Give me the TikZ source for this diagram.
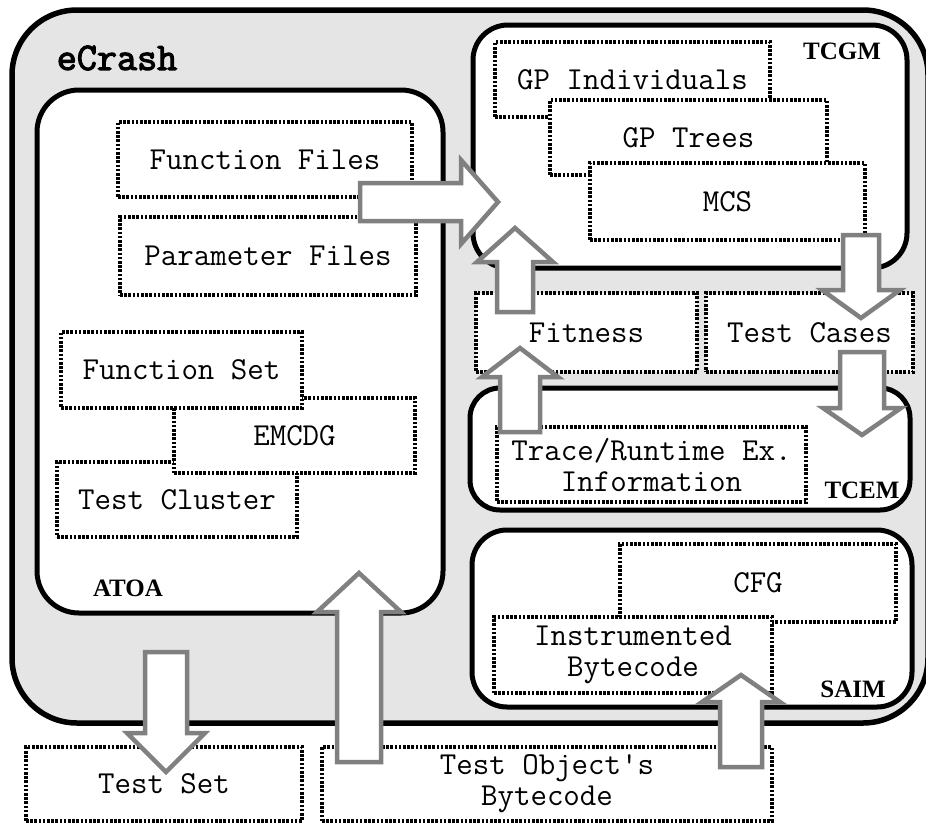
\documentclass[tikz,border=0pt]{standalone}
\usepackage{fontspec}
\newfontfamily\boxfont{Latin Modern Mono}
\newfontfamily\ecfont{Latin Modern Mono}[FakeBold=3]
\newfontfamily\labfont{Liberation Serif}
\definecolor{bggray}{RGB}{229,229,229}
\definecolor{arrgray}{RGB}{128,128,128}
\newcommand\vblockarrow[6]{% cx, ystart, ytip, halfshaft, halfhead, ybase
  \draw[blockarrow] (#1-#4,#2) -- (#1-#4,#6) -- (#1-#5,#6) -- (#1,#3) -- (#1+#5,#6) -- (#1+#4,#6) -- (#1+#4,#2) -- cycle;}
\newcommand\hblockarrow[6]{% cy, xstart, xtip, halfshaft, halfhead, xbase
  \draw[blockarrow] (#2,#1-#4) -- (#6,#1-#4) -- (#6,#1-#5) -- (#3,#1) -- (#6,#1+#5) -- (#6,#1+#4) -- (#2,#1+#4) -- cycle;}
\tikzset{
  solidbox/.style={draw=black, line width=5pt, fill=white, inner sep=0pt},
  dbox/.style={draw=black, fill=white, line width=4pt, dash pattern=on 2.6pt off 1.6pt,
    font=\boxfont\fontsize{32}{31}\selectfont, align=center, inner sep=0pt},
  modlabel/.style={font=\labfont\bfseries\fontsize{25}{27}\selectfont, inner sep=0pt},
  blockarrow/.style={draw=arrgray, fill=white, line width=4.5pt, line join=miter},
}
\begin{document}
\begin{tikzpicture}[x=1pt,y=-1pt]
\useasboundingbox (0,0) rectangle (926,825);
% outer eCrash box
\node[draw=black, line width=5.5pt, fill=bggray, rounded corners=65pt,
  minimum width=916pt, minimum height=713pt, inner sep=0pt] (ecrash) at (470,366.5) {};
\node[font=\ecfont\fontsize{39}{40}\selectfont, inner sep=0pt] (ecrashlbl) at (117,58) {eCrash};
% module boxes
\node[solidbox, rounded corners=42pt, minimum width=406pt, minimum height=523pt] (atoa) at (240,351.5) {};
\node[solidbox, rounded corners=35pt, minimum width=434pt, minimum height=243pt] (tcgm) at (690,146.5) {};
\node[solidbox, rounded corners=30pt, minimum width=440pt, minimum height=122pt] (tcem) at (690,449) {};
\node[solidbox, rounded corners=35pt, minimum width=440pt, minimum height=177pt] (saim) at (692,618.5) {};
\node[modlabel] (atoalbl) at (128,588.5) {ATOA};
\node[modlabel] (tcgmlbl) at (842,51.5) {TCGM};
\node[modlabel] (tcemlbl) at (862,490) {TCEM};
\node[modlabel] (saimlbl) at (853,689.5) {SAIM};
% ATOA contents
\node[dbox, minimum width=294pt, minimum height=75pt] (ff) at (265,159.5) {Function Files};
\node[dbox, minimum width=296pt, minimum height=78pt] (pf) at (268,256) {Parameter Files};
\node[dbox, minimum width=240pt, minimum height=75pt] (tcl) at (177,499.5) {Test Cluster};
\node[dbox, minimum width=241pt, minimum height=75pt] (emcdg) at (294.5,435.5) {EMCDG};
\node[dbox, minimum width=241pt, minimum height=76pt] (fs) at (181.5,370) {Function Set};
% TCGM contents
\node[dbox, minimum width=275pt, minimum height=75pt] (gpi) at (632.5,79.5) {GP Individuals};
\node[dbox, minimum width=277pt, minimum height=75pt] (gpt) at (688.5,137.5) {GP Trees};
\node[dbox, minimum width=275pt, minimum height=77pt] (mcs) at (727.5,201.5) {MCS};
% middle
\node[dbox, minimum width=221pt, minimum height=79pt] (fit) at (586.5,332.5) {Fitness};
\node[dbox, minimum width=207pt, minimum height=79pt] (tcs) at (809.5,332.5) {Test Cases};
% TCEM contents
\node[dbox, minimum width=309pt, minimum height=75pt] (trace) at (651.5,464.5) {Trace/Runtime Ex.\\Information};
% SAIM contents
\node[dbox, minimum width=276pt, minimum height=78pt] (cfg) at (758,583) {CFG};
\node[dbox, minimum width=278pt, minimum height=76pt] (ib) at (633,655) {Instrumented\\Bytecode};
% bottom
\node[dbox, minimum width=276pt, minimum height=74pt] (ts) at (164,784) {Test Set};
\node[dbox, minimum width=450pt, minimum height=74pt] (tob) at (547,784) {Test Object's\\Bytecode};
% block arrows
\hblockarrow{202}{360}{498}{19}{42}{461}
\vblockarrow{515}{312}{228}{18}{38}{262}
\vblockarrow{861}{235}{318}{18}{39}{290}
\vblockarrow{520}{432}{348}{20}{38}{377}
\vblockarrow{862}{352}{435}{22}{39}{408}
\vblockarrow{359}{762}{573}{22}{42}{612}
\vblockarrow{166}{652}{772}{21}{39}{733}
\vblockarrow{741}{767}{675}{21}{39}{702}
\end{tikzpicture}
\end{document}
